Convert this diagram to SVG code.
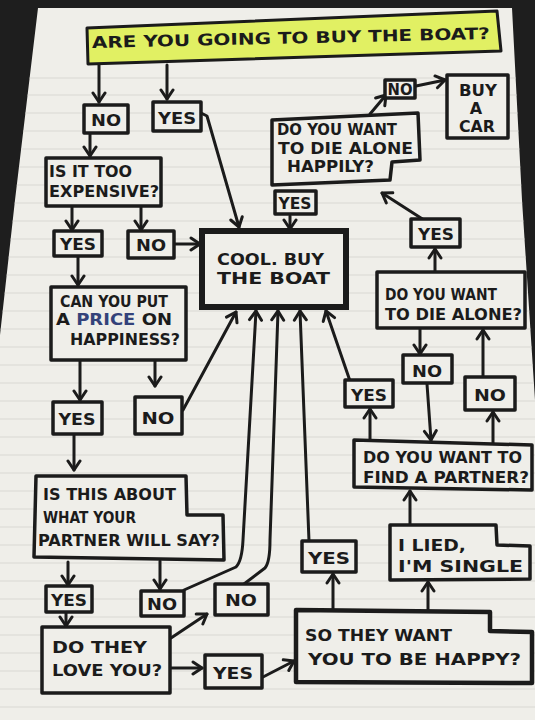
<svg xmlns="http://www.w3.org/2000/svg" width="535" height="720" viewBox="0 0 535 720">
<style>
.bx{fill:#efeee9;stroke:#1b1b1b;stroke-width:3.5;stroke-linejoin:round}
.t{font-family:"DejaVu Sans","Liberation Sans",sans-serif;font-size:16px;font-weight:bold;fill:#1b1b1b}
.m{text-anchor:middle}
.c{fill:none;stroke:#1b1b1b;stroke-width:3;stroke-linecap:round;stroke-linejoin:round;marker-end:url(#ah)}
.rl{stroke:#d9d8d3;stroke-width:1}
</style>
<defs>
<marker id="ah" markerUnits="userSpaceOnUse" markerWidth="16" markerHeight="16" refX="12" refY="8" orient="auto">
<path d="M3,2 L12,8 L3,14" fill="none" stroke="#1b1b1b" stroke-width="3" stroke-linecap="round" stroke-linejoin="round"/>
</marker>
<clipPath id="paperclip"><polygon points="38,8 512,8 522,200 535,400 535,720 0,720 0,335 15,200"/></clipPath>
</defs>
<rect x="0" y="0" width="535" height="720" fill="#1e1e1e"/>
<polygon points="38,8 512,8 522,200 535,400 535,720 0,720 0,335 15,200" fill="#efeee9"/>
<g id="rules" clip-path="url(#paperclip)">
<line class="rl" x1="0" y1="78" x2="535" y2="78"/><line class="rl" x1="0" y1="95" x2="535" y2="95"/>
<line class="rl" x1="0" y1="113" x2="535" y2="113"/><line class="rl" x1="0" y1="131" x2="535" y2="131"/>
<line class="rl" x1="0" y1="149" x2="535" y2="149"/><line class="rl" x1="0" y1="167" x2="535" y2="167"/>
<line class="rl" x1="0" y1="185" x2="535" y2="185"/><line class="rl" x1="0" y1="203" x2="535" y2="203"/>
<line class="rl" x1="0" y1="221" x2="535" y2="221"/><line class="rl" x1="0" y1="239" x2="535" y2="239"/>
<line class="rl" x1="0" y1="257" x2="535" y2="257"/><line class="rl" x1="0" y1="275" x2="535" y2="275"/>
<line class="rl" x1="0" y1="293" x2="535" y2="293"/><line class="rl" x1="0" y1="311" x2="535" y2="311"/>
<line class="rl" x1="0" y1="329" x2="535" y2="329"/><line class="rl" x1="0" y1="347" x2="535" y2="347"/>
<line class="rl" x1="0" y1="365" x2="535" y2="365"/><line class="rl" x1="0" y1="383" x2="535" y2="383"/>
<line class="rl" x1="0" y1="401" x2="535" y2="401"/><line class="rl" x1="0" y1="419" x2="535" y2="419"/>
<line class="rl" x1="0" y1="437" x2="535" y2="437"/><line class="rl" x1="0" y1="455" x2="535" y2="455"/>
<line class="rl" x1="0" y1="473" x2="535" y2="473"/><line class="rl" x1="0" y1="491" x2="535" y2="491"/>
<line class="rl" x1="0" y1="509" x2="535" y2="509"/><line class="rl" x1="0" y1="527" x2="535" y2="527"/>
<line class="rl" x1="0" y1="545" x2="535" y2="545"/><line class="rl" x1="0" y1="563" x2="535" y2="563"/>
<line class="rl" x1="0" y1="581" x2="535" y2="581"/><line class="rl" x1="0" y1="599" x2="535" y2="599"/>
<line class="rl" x1="0" y1="617" x2="535" y2="617"/><line class="rl" x1="0" y1="635" x2="535" y2="635"/>
<line class="rl" x1="0" y1="653" x2="535" y2="653"/><line class="rl" x1="0" y1="671" x2="535" y2="671"/>
<line class="rl" x1="0" y1="689" x2="535" y2="689"/><line class="rl" x1="0" y1="707" x2="535" y2="707"/>
</g>
<g id="connectors">
<path class="c" d="M99,65 L99,102"/>
<path class="c" d="M167,65 L167,99"/>
<path class="c" d="M90,134 L90,156"/>
<path class="c" d="M201,113 L207,116 L239,227"/>
<path class="c" d="M72,207 L72,230"/>
<path class="c" d="M141,207 L141,230"/>
<path class="c" d="M175,244 L200,244"/>
<path class="c" d="M78,257 L78,285"/>
<path class="c" d="M80,361 L80,400"/>
<path class="c" d="M155,361 L155,386"/>
<path class="c" d="M183,410 L236,312"/>
<path class="c" d="M74,435 L74,470"/>
<path class="c" d="M68,562 L68,585"/>
<path class="c" d="M160,561 L160,589"/>
<path class="c" d="M66,613 L66,626"/>
<path class="c" d="M171,638 L207,614"/>
<path class="c" d="M171,668 L202,668"/>
<path class="c" d="M263,677 L294,661"/>
<path class="c" d="M184,590 L236,567 Q242,561 243,540 L256,311"/>
<path class="c" d="M244,584 L265,568 Q270,562 270,540 L278,311"/>
<path class="c" d="M309,541 L300,311"/>
<path class="c" d="M333,609 L333,574"/>
<path class="c" d="M428,610 L428,582"/>
<path class="c" d="M410,524 L410,491"/>
<path class="c" d="M370,441 L370,409"/>
<path class="c" d="M350,381 L326,311"/>
<path class="c" d="M493,446 L493,412"/>
<path class="c" d="M483,377 L483,330"/>
<path class="c" d="M420,328 L420,354"/>
<path class="c" d="M427,384 L431,440"/>
<path class="c" d="M435,272 L435,249"/>
<path class="c" d="M424,220 L382,193"/>
<path class="c" d="M290,216 L290,229"/>
<path class="c" d="M370,114 L386,95"/>
<path class="c" d="M416,86 L445,80"/>
</g>
<g id="title">
<polygon points="87,28 497,11 501,51 88,64" fill="#e1f063" stroke="#1b1b1b" stroke-width="3" stroke-linejoin="round"/>
<text class="t" x="92" y="48" font-size="21" textLength="398" lengthAdjust="spacingAndGlyphs" transform="rotate(-1.3 92 48)">ARE YOU GOING TO BUY THE BOAT?</text>
</g>
<g id="no1"><rect class="bx" x="84" y="105" width="44" height="28"/><text class="t m" x="106" y="126" textLength="30" lengthAdjust="spacingAndGlyphs">NO</text></g>
<g id="yes1"><rect class="bx" x="153" y="102" width="48" height="29"/><text class="t m" x="177" y="124" textLength="38" lengthAdjust="spacingAndGlyphs">YES</text></g>
<g id="expensive"><rect class="bx" x="46" y="158" width="115" height="48"/>
<text class="t" x="49" y="177" textLength="83" lengthAdjust="spacingAndGlyphs">IS IT TOO</text>
<text class="t" x="49" y="197" textLength="110" lengthAdjust="spacingAndGlyphs">EXPENSIVE?</text></g>
<g id="yes2"><rect class="bx" x="54" y="231" width="48" height="25"/><text class="t m" x="78" y="250" textLength="36" lengthAdjust="spacingAndGlyphs">YES</text></g>
<g id="no2"><rect class="bx" x="128" y="231" width="46" height="27"/><text class="t m" x="151" y="251" textLength="30" lengthAdjust="spacingAndGlyphs">NO</text></g>
<g id="cool"><rect x="202" y="231" width="144" height="76" fill="#efeee9" stroke="#1b1b1b" stroke-width="6"/>
<text class="t" x="217" y="265" font-size="18" textLength="107" lengthAdjust="spacingAndGlyphs">COOL. BUY</text>
<text class="t" x="217" y="284" font-size="18" textLength="113" lengthAdjust="spacingAndGlyphs">THE BOAT</text></g>
<g id="price"><rect class="bx" x="51" y="287" width="135" height="73"/>
<text class="t" x="60" y="307" textLength="108" lengthAdjust="spacingAndGlyphs">CAN YOU PUT</text>
<text class="t" x="56" y="325" textLength="116" lengthAdjust="spacingAndGlyphs">A <tspan fill="#34427a">PRICE</tspan> ON</text>
<text class="t" x="70" y="345" textLength="110" lengthAdjust="spacingAndGlyphs">HAPPINESS?</text></g>
<g id="yes3"><rect class="bx" x="53" y="402" width="49" height="32"/><text class="t m" x="77" y="425" textLength="37" lengthAdjust="spacingAndGlyphs">YES</text></g>
<g id="no3"><rect class="bx" x="135" y="397" width="47" height="37"/><text class="t m" x="158" y="424" font-size="18" textLength="33" lengthAdjust="spacingAndGlyphs">NO</text></g>
<g id="partnersay"><polygon class="bx" points="36,476 186,476 187,515 223,515 224,560 34,557"/>
<text class="t" x="43" y="500" textLength="133" lengthAdjust="spacingAndGlyphs">IS THIS ABOUT</text>
<text class="t" x="43" y="523" textLength="93" lengthAdjust="spacingAndGlyphs">WHAT YOUR</text>
<text class="t" x="38" y="546" textLength="182" lengthAdjust="spacingAndGlyphs">PARTNER WILL SAY?</text></g>
<g id="yes4"><rect class="bx" x="46" y="586" width="46" height="26"/><text class="t m" x="69" y="606" textLength="36" lengthAdjust="spacingAndGlyphs">YES</text></g>
<g id="no4"><rect class="bx" x="141" y="591" width="43" height="25"/><text class="t m" x="162" y="610" textLength="30" lengthAdjust="spacingAndGlyphs">NO</text></g>
<g id="no5"><rect class="bx" x="215" y="584" width="53" height="31"/><text class="t m" x="241" y="606" textLength="32" lengthAdjust="spacingAndGlyphs">NO</text></g>
<g id="lovey"><rect class="bx" x="42" y="627" width="128" height="66"/>
<text class="t" x="52" y="653" font-size="17" textLength="95" lengthAdjust="spacingAndGlyphs">DO THEY</text>
<text class="t" x="52" y="676" font-size="17" textLength="110" lengthAdjust="spacingAndGlyphs">LOVE YOU?</text></g>
<g id="yes5"><rect class="bx" x="205" y="655" width="57" height="33"/><text class="t m" x="233" y="679" font-size="17" textLength="40" lengthAdjust="spacingAndGlyphs">YES</text></g>
<g id="happy"><polygon points="296,610 490,612 490,631 532,632 532,683 296,682" fill="#efeee9" stroke="#1b1b1b" stroke-width="4.5" stroke-linejoin="round"/>
<text class="t" x="305" y="641" font-size="17" textLength="147" lengthAdjust="spacingAndGlyphs">SO THEY WANT</text>
<text class="t" x="308" y="665" font-size="17" textLength="213" lengthAdjust="spacingAndGlyphs">YOU TO BE HAPPY?</text></g>
<g id="yes6"><rect class="bx" x="302" y="541" width="54" height="31"/><text class="t m" x="329" y="564" font-size="17" textLength="42" lengthAdjust="spacingAndGlyphs">YES</text></g>
<g id="single"><polygon class="bx" points="390,525 496,525 497,545 530,546 530,579 390,580"/>
<text class="t" x="398" y="551" font-size="17" textLength="68" lengthAdjust="spacingAndGlyphs">I LIED,</text>
<text class="t" x="398" y="572" font-size="17" textLength="125" lengthAdjust="spacingAndGlyphs">I'M SINGLE</text></g>
<g id="findpartner"><polygon class="bx" points="354,440 532,445 532,490 354,487"/>
<text class="t" x="363" y="463" textLength="159" lengthAdjust="spacingAndGlyphs">DO YOU WANT TO</text>
<text class="t" x="363" y="483" textLength="166" lengthAdjust="spacingAndGlyphs">FIND A PARTNER?</text></g>
<g id="yes7"><rect class="bx" x="345" y="380" width="48" height="27"/><text class="t m" x="369" y="401" textLength="36" lengthAdjust="spacingAndGlyphs">YES</text></g>
<g id="no6"><rect class="bx" x="403" y="355" width="49" height="28"/><text class="t m" x="427" y="377" textLength="30" lengthAdjust="spacingAndGlyphs">NO</text></g>
<g id="no7"><rect class="bx" x="465" y="377" width="50" height="33"/><text class="t m" x="490" y="401" textLength="32" lengthAdjust="spacingAndGlyphs">NO</text></g>
<g id="diealone"><rect class="bx" x="377" y="272" width="148" height="56"/>
<text class="t" x="385" y="300" textLength="112" lengthAdjust="spacingAndGlyphs">DO YOU WANT</text>
<text class="t" x="385" y="320" textLength="137" lengthAdjust="spacingAndGlyphs">TO DIE ALONE?</text></g>
<g id="yes8"><rect class="bx" x="411" y="219" width="49" height="28"/><text class="t m" x="436" y="240" textLength="36" lengthAdjust="spacingAndGlyphs">YES</text></g>
<g id="happily"><polygon class="bx" points="272,120 418,113 420,160 392,162 390,180 272,185"/>
<text class="t" x="277" y="135" font-size="15" textLength="120" lengthAdjust="spacingAndGlyphs">DO YOU WANT</text>
<text class="t" x="278" y="154" font-size="15" textLength="135" lengthAdjust="spacingAndGlyphs">TO DIE ALONE</text>
<text class="t" x="287" y="172" font-size="15" textLength="87" lengthAdjust="spacingAndGlyphs">HAPPILY?</text></g>
<g id="yes9"><rect class="bx" x="275" y="191" width="41" height="23"/><text class="t m" x="295" y="209" font-size="15" textLength="33" lengthAdjust="spacingAndGlyphs">YES</text></g>
<g id="no8"><rect class="bx" x="385" y="80" width="30" height="18"/><text class="t m" x="400" y="95" font-size="14" textLength="25" lengthAdjust="spacingAndGlyphs">NO</text></g>
<g id="buycar"><rect class="bx" x="447" y="75" width="61" height="63"/>
<text class="t m" x="478" y="96" font-size="14" textLength="38" lengthAdjust="spacingAndGlyphs">BUY</text>
<text class="t m" x="476" y="114" font-size="14">A</text>
<text class="t m" x="477" y="132" font-size="14" textLength="36" lengthAdjust="spacingAndGlyphs">CAR</text></g>
</svg>
